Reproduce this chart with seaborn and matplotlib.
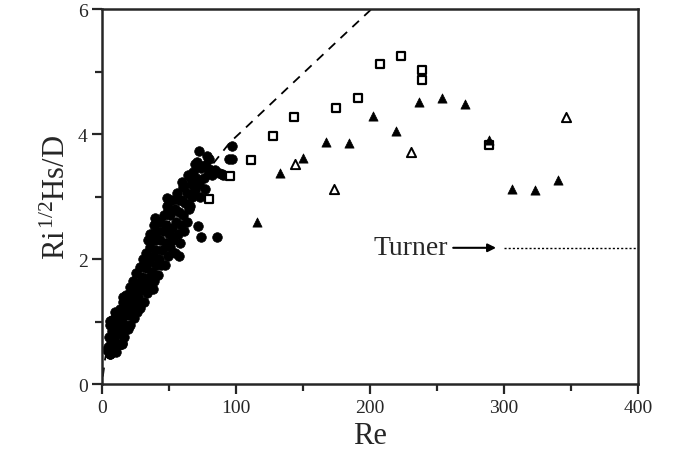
import numpy as np
import pandas as pd
import matplotlib
matplotlib.use("Agg")
import matplotlib.pyplot as plt
import seaborn as sns

# filled circles (dense cloud at low Re)
circle_re = [4.5, 5, 5.5, 6, 6.5, 7, 7.5, 8,
             9, 9.5, 10, 10.5, 11, 12, 12.5, 13, 14, 14.5,
             15, 15.5, 16, 17, 17.5, 18, 19, 19.5, 20, 20.5,
             21, 22, 22.5, 23, 24, 24.5, 25, 25.5, 26,
             27, 27.5, 28, 28.5, 29, 30, 30.5, 31, 32, 32.5,
             33, 33.5, 34, 34.5, 35, 36, 36.5, 37, 37.5, 38, 38.5,
             39, 39.5, 40, 40.5, 41, 42, 42.5, 43, 43.5, 44,
             45, 45.5, 46, 47, 47.5, 48, 48.5, 49, 50, 50.5,
             51, 52, 52.5, 53, 54, 54.5, 55, 56, 56.5,
             57, 58, 58.5, 59, 60, 60.5, 61, 62,
             63, 63.5, 64, 65, 66, 67, 68, 69, 70, 70.5,
             72, 73, 74, 76, 77, 78, 80, 82, 84, 87, 90,
             96.8, 96.8, 94.5, 72.6, 79.4, 69.4, 59.5, 65.7, 76.9, 48.3,
             57, 65.7, 49.5, 39.6, 71.9, 73.9, 85.6, 57, 35.8, 38.3,
             15.9, 9.7, 6, 4.7, 6, 14.7, 3.5, 89.3, 84.3, 79.4]
circle_val = [0.55, 0.75, 0.95, 0.48, 0.65, 0.85, 1.02, 0.55,
              0.72, 0.95, 1.12, 0.52, 0.8, 1.0, 0.62, 1.2, 0.85, 0.66,
              1.05, 1.32, 0.75, 0.95, 1.18, 1.42, 0.88, 1.1, 1.3, 1.55,
              0.95, 1.2, 1.42, 1.65, 1.05, 1.3, 1.52, 1.78, 1.15,
              1.4, 1.62, 1.88, 1.22, 1.5, 1.72, 2.0, 1.32, 1.6, 1.85,
              2.1, 1.45, 2.3, 1.7, 1.95, 2.2, 1.55, 2.4, 1.8, 2.05, 2.55,
              1.65, 2.3, 1.9, 2.15, 2.45, 1.75, 2.0, 2.6, 2.3, 1.9,
              2.15, 2.45, 2.7, 1.9, 2.25, 2.55, 2.85, 2.05, 2.4, 2.7,
              2.2, 2.95, 2.5, 2.3, 2.8, 2.1, 2.6, 3.05, 2.4,
              2.75, 2.25, 2.95, 2.55, 3.15, 2.7, 2.45, 2.9,
              3.05, 2.6, 3.35, 2.8, 3.2, 3.0, 3.4, 3.1, 3.3, 3.55,
              3.2, 3.0, 3.45, 3.3, 3.5, 3.65, 3.4, 3.35, 3.42, 3.38, 3.35,
              3.81, 3.60, 3.60, 3.73, 3.60, 3.52, 3.23, 3.31, 3.12, 2.97,
              2.94, 2.85, 2.77, 2.65, 2.53, 2.36, 2.36, 2.05, 2.40, 1.52,
              1.39, 1.15, 1.01, 0.59, 0.48, 0.64, 0.55, 3.36, 3.39, 3.44]

# open squares
square_re = [79.4, 95.5, 111, 127.4, 143.3, 174.9, 191, 207, 223, 238.8, 238.8, 289]
square_val = [2.96, 3.33, 3.59, 3.97, 4.27, 4.41, 4.58, 5.12, 5.25, 5.02, 4.86, 3.83]

# filled triangles
tri_re = [115.4, 132.8, 149.8, 167, 184.6, 202, 219, 236.6, 254, 271, 289, 305.7, 323, 340]
tri_val = [2.60, 3.37, 3.62, 3.87, 3.85, 4.29, 4.05, 4.51, 4.57, 4.48, 3.90, 3.12, 3.10, 3.26]

# open triangles
otri_re = [144, 173, 230.6, 346]
otri_val = [3.52, 3.12, 3.71, 4.27]

# dashed curve
curve_re = [0.5, 2.2, 5, 10, 20, 40, 60, 80, 95.5, 108, 140, 177.6, 201]
curve_val = [0.12, 0.4, 0.72, 1.05, 1.55, 2.3, 2.9, 3.45, 3.87, 4.12, 4.77, 5.53, 6.0]

# Turner limit
turner_re = [300, 400]
turner_val = [2.18, 2.18]

sns.set_style("ticks")
plt.rcParams['font.family'] = ['Liberation Serif', 'DejaVu Serif']
plt.rcParams['mathtext.fontset'] = 'custom'
plt.rcParams['mathtext.rm'] = 'Liberation Serif'
plt.rcParams['mathtext.it'] = 'Liberation Serif:italic'

fig = plt.figure(figsize=(6.81, 4.60), dpi=100)
ax = fig.add_axes([0.150, 0.163, 0.787, 0.815])

sns.lineplot(x=curve_re, y=curve_val, ax=ax, color='black', lw=1.3,
             linestyle=(0, (5, 4)), sort=False, estimator=None)
sns.lineplot(x=turner_re, y=turner_val, ax=ax, color='black', lw=1.0,
             linestyle=(0, (1.5, 1.5)), sort=False, estimator=None)

sns.scatterplot(x=circle_re, y=circle_val, ax=ax, marker='o', s=48,
                color='black', edgecolor='black', linewidth=0.5)
sns.scatterplot(x=square_re, y=square_val, ax=ax, marker='s', s=30,
                facecolor='white', edgecolor='black', linewidth=1.6)
sns.scatterplot(x=otri_re, y=otri_val, ax=ax, marker='^', s=44,
                facecolor='white', edgecolor='black', linewidth=1.4)
sns.scatterplot(x=tri_re, y=tri_val, ax=ax, marker='^', s=44,
                color='black', edgecolor='black', linewidth=0.5)

ax.annotate('', xy=(294, 2.18), xytext=(262, 2.18),
            arrowprops=dict(arrowstyle='-|>', color='black', lw=1.5,
                            mutation_scale=12, shrinkA=0, shrinkB=0))
ax.text(258, 2.18, 'Turner', fontsize=20, ha='right', va='center')

ax.set_xlim(0, 400)
ax.set_ylim(0, 6)
ax.set_xticks([0, 100, 200, 300, 400])
ax.set_xticks([50, 150, 250, 350], minor=True)
ax.set_yticks([0, 2, 4, 6])
ax.set_yticks([1, 3, 5], minor=True)
ax.tick_params(axis='both', which='major', direction='out', length=7, width=1.6,
               labelsize=14, top=False, right=False)
ax.tick_params(axis='both', which='minor', direction='out', length=5, width=1.6,
               top=False, right=False)
for sp in ax.spines.values():
    sp.set_linewidth(1.8)
    sp.set_visible(True)

ax.set_xlabel('Re', fontsize=22)
ax.set_ylabel(r'Ri$^{\,1/2}$Hs/D', fontsize=22)

fig.savefig('out.png', dpi=100)
